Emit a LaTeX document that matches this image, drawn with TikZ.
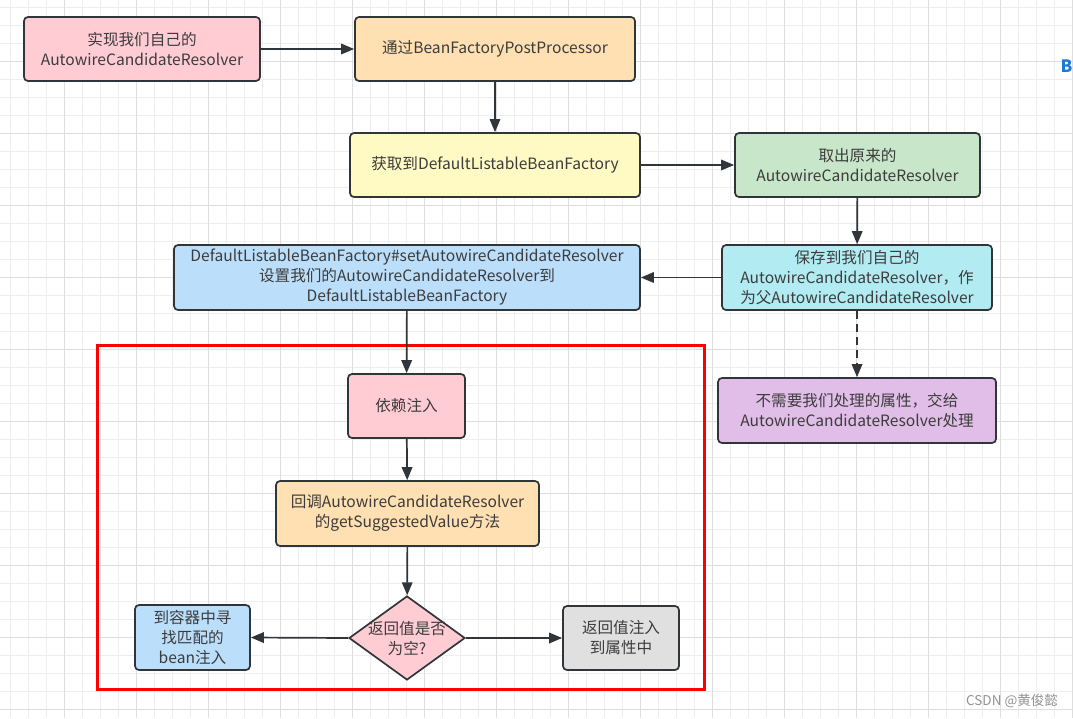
\documentclass[tikz,border=0pt]{standalone}
\usepackage{fontspec}
\setmainfont{Noto Sans CJK SC}
\usetikzlibrary{arrows.meta,shapes.geometric}
\definecolor{edge}{HTML}{30353A}
\definecolor{txt}{HTML}{3C3C3C}
\definecolor{pinkf}{HTML}{FFCCD4}
\definecolor{orangef}{HTML}{FFE0B2}
\definecolor{yellowf}{HTML}{FFF9C4}
\definecolor{greenf}{HTML}{C8E6C9}
\definecolor{bluef}{HTML}{BBDEFB}
\definecolor{cyanf}{HTML}{B2EBF2}
\definecolor{purplef}{HTML}{E1BEE7}
\definecolor{grayf}{HTML}{E0E0E0}
\definecolor{gridminor}{HTML}{EEEEEE}
\definecolor{gridmajor}{HTML}{DEDEDE}
\definecolor{markblue}{HTML}{1E78D6}
\begin{document}
\begin{tikzpicture}[x=1pt,y=-1pt,
  box/.style={draw=edge, line width=1.7pt, rounded corners=4pt, align=center,
    text=txt, font=\fontsize{15.6}{20}\selectfont, inner sep=0pt},
  arr/.style={draw=edge, line width=1.7pt, -{Triangle[length=13pt,width=10.5pt]}},
  darr/.style={arr, dash pattern=on 8pt off 5pt}]
\useasboundingbox (0,0) rectangle (1073,718);
\fill[white] (0,0) rectangle (1073,718);
% grid
\foreach \x in {10.7,28.7,...,1073} \draw[gridminor, line width=0.8pt] (\x,0) -- (\x,718);
\foreach \y in {7.3,25.3,...,718} \draw[gridminor, line width=0.8pt] (0,\y) -- (1073,\y);
\foreach \x in {64.7,136.7,...,1073} \draw[gridmajor, line width=0.8pt] (\x,0) -- (\x,718);
\foreach \y in {61.3,133.3,...,718} \draw[gridmajor, line width=0.8pt] (0,\y) -- (1073,\y);

% red frame
\node[draw=red, line width=3pt, minimum width=607pt, minimum height=344pt, inner sep=0pt] (frame) at (400.5,517) {};

% boxes
\node[box, fill=pinkf, minimum width=236pt, minimum height=64pt] (a) at (142,49) {实现我们自己的\\AutowireCandidateResolver};
\node[box, fill=orangef, minimum width=280pt, minimum height=64pt] (b) at (495,49) {通过BeanFactoryPostProcessor};
\node[box, fill=yellowf, minimum width=290pt, minimum height=64pt] (c) at (495,165) {获取到DefaultListableBeanFactory};
\node[box, fill=greenf, minimum width=245pt, minimum height=64pt] (d) at (857.5,165) {取出原来的\\AutowireCandidateResolver};
\node[box, fill=bluef, minimum width=466pt, minimum height=65pt] (e) at (407,277.5) {DefaultListableBeanFactory\#setAutowireCandidateResolver\\设置我们的AutowireCandidateResolver到\\DefaultListableBeanFactory};
\node[box, fill=cyanf, minimum width=270pt, minimum height=65pt] (f) at (857,277.5) {保存到我们自己的\\AutowireCandidateResolver，作\\为父AutowireCandidateResolver};
\node[box, fill=purplef, minimum width=278pt, minimum height=65pt] (g) at (857,410.5) {不需要我们处理的属性，交给\\AutowireCandidateResolver处理};
\node[box, fill=pinkf, minimum width=117pt, minimum height=64pt] (h) at (406.5,406) {依赖注入};
\node[box, fill=orangef, minimum width=263pt, minimum height=65pt] (i) at (407.5,513.5) {回调AutowireCandidateResolver\\的getSuggestedValue方法};
\node[diamond, draw=edge, line width=1.7pt, fill=pinkf, minimum width=116pt, minimum height=84pt, inner sep=0pt] (j) at (407,638) {};
\node[align=center, text=txt, font=\fontsize{15.6}{20}\selectfont, inner sep=0pt] (jt) at (j.center) {返回值是否\\为空?};
\node[box, fill=bluef, minimum width=115pt, minimum height=65pt] (k) at (192.5,637.5) {到容器中寻\\找匹配的\\bean注入};
\node[box, fill=grayf, minimum width=116pt, minimum height=64pt] (l) at (621,638) {返回值注入\\到属性中};

% connectors
\draw[arr] (a) -- (b);
\draw[arr] (b) -- (c);
\draw[arr] (c) -- (d);
\draw[arr] (d) -- (f);
\draw[arr] (f.west) -- (e.east);
\draw[darr] (f) -- (g);
\draw[arr] (e) -- (h);
\draw[arr] (h) -- (i);
\draw[arr] (i) -- (j);
\draw[arr] (j.west) -- (k.east);
\draw[arr] (j.east) -- (l.west);

% extra texts
\node[anchor=east, text=markblue, font=\fontsize{17}{18}\selectfont\bfseries, inner sep=0pt] (edgeb) at (1072.5,66.5) {B};
\node[anchor=east, text=gray!85, font=\fontsize{13.5}{15}\selectfont, inner sep=0pt] (wm) at (1058,701) {CSDN @黄俊懿};
\end{tikzpicture}
\end{document}
